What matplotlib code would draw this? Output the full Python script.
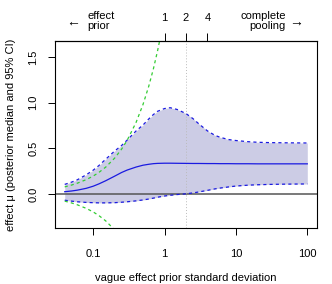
import numpy as np
import matplotlib
matplotlib.use("Agg")
import matplotlib.pyplot as plt

plt.rcParams['font.family'] = ['Liberation Sans', 'DejaVu Sans']
plt.rcParams['font.size'] = 8

# prior standard deviation grid
sd = [0.04, 0.05, 0.06, 0.08, 0.1, 0.12, 0.15, 0.2, 0.25, 0.3, 0.4, 0.5, 0.6, 0.7, 0.8,
      1.0, 1.2, 1.5, 2, 2.5, 3, 4, 5, 6, 8, 10, 15, 20, 30, 50, 100]

# posterior median and 95% CI of effect mu
med = [0.025, 0.033, 0.042, 0.062, 0.085, 0.11, 0.145, 0.195, 0.235, 0.262, 0.295, 0.315,
       0.325, 0.332, 0.335, 0.337, 0.337, 0.336, 0.335, 0.334, 0.334, 0.333, 0.333, 0.332,
       0.332, 0.331, 0.331, 0.33, 0.33, 0.33, 0.33]
upper = [0.105, 0.13, 0.155, 0.21, 0.26, 0.31, 0.38, 0.47, 0.53, 0.59, 0.69, 0.755, 0.82,
         0.87, 0.905, 0.935, 0.944, 0.925, 0.88, 0.825, 0.77, 0.69, 0.645, 0.62, 0.595,
         0.585, 0.572, 0.566, 0.562, 0.56, 0.558]
lower = [-0.068, -0.078, -0.085, -0.092, -0.095, -0.097, -0.097, -0.095, -0.09, -0.085,
         -0.075, -0.065, -0.055, -0.045, -0.035, -0.022, -0.014, -0.006, 0.002, 0.012,
         0.022, 0.04, 0.055, 0.065, 0.078, 0.087, 0.097, 0.101, 0.105, 0.108, 0.11]

# prior 95% limits (green)
sd_prior = [0.04, 0.05, 0.06, 0.08, 0.1, 0.12, 0.15, 0.2, 0.25, 0.3, 0.4, 0.5, 0.6, 0.7, 0.8, 0.9]
prior_up = [0.078, 0.098, 0.118, 0.157, 0.196, 0.235, 0.294, 0.392, 0.49, 0.588, 0.784,
            0.98, 1.176, 1.372, 1.568, 1.764]
prior_lo = [-0.078, -0.098, -0.118, -0.157, -0.196, -0.235, -0.294, -0.392, -0.49, -0.588,
            -0.784, -0.98, -1.176, -1.372, -1.568, -1.764]

top_ticks = [1, 2, 4]

fig = plt.figure(figsize=(3.32, 2.84), dpi=100)
ax = fig.add_axes([55/332, 56/284, 262/332, 187/284])

ax.fill_between(sd, lower, upper, color='#CCCCE5', lw=0)
ax.axhline(0, color='#555555', lw=1.1)
ax.axvline(2, color='#BBBBBB', lw=0.7, ls=(0, (1, 2)))
ax.plot(sd, med, color='#1A1AE0', lw=0.9)
ax.plot(sd, upper, color='#1A1AE0', lw=0.9, ls=(0, (2.5, 2.5)))
ax.plot(sd, lower, color='#1A1AE0', lw=0.9, ls=(0, (2.5, 2.5)))
ax.plot(sd_prior, prior_up, color='#33CC33', lw=0.9, ls=(0, (2.5, 2.5)))
ax.plot(sd_prior, prior_lo, color='#33CC33', lw=0.9, ls=(0, (2.5, 2.5)))

ax.set_xscale('log')
ax.set_xlim(10**-1.534, 10**2.136)
ax.set_ylim(-0.372, 1.674)
ax.set_xticks([0.1, 1, 10, 100])
ax.set_xticklabels(['0.1', '1', '10', '100'])
ax.xaxis.set_minor_locator(matplotlib.ticker.NullLocator())
ax.set_yticks([0, 0.5, 1.0, 1.5])
ax.set_yticklabels(['0.0', '0.5', '1.0', '1.5'], rotation=90, va='center')
ax.tick_params(axis='x', length=5, width=0.7, pad=10)
ax.tick_params(axis='y', length=5, width=0.7, pad=7)
for s in ax.spines.values():
    s.set_linewidth(0.8)

ax.set_xlabel('vague effect prior standard deviation', labelpad=10)
ax.set_ylabel('effect \u03bc (posterior median and 95% CI)', labelpad=9)

sec = ax.secondary_xaxis('top')
sec.set_xticks(top_ticks)
sec.set_xticklabels([str(t) for t in top_ticks])
sec.xaxis.set_minor_locator(matplotlib.ticker.NullLocator())
sec.tick_params(length=6, width=0.7, pad=7)

fig.text(73/332, 1 - 22/284, '\u2190', ha='center', va='center', fontsize=10)
fig.text(87/332, 1 - 21/284, 'effect\nprior', ha='left', va='center', linespacing=1.05)
fig.text(286/332, 1 - 21/284, 'complete\npooling', ha='right', va='center',
         linespacing=1.05, multialignment='right')
fig.text(296/332, 1 - 22/284, '\u2192', ha='center', va='center', fontsize=10)

fig.savefig('out.png', dpi=100)
